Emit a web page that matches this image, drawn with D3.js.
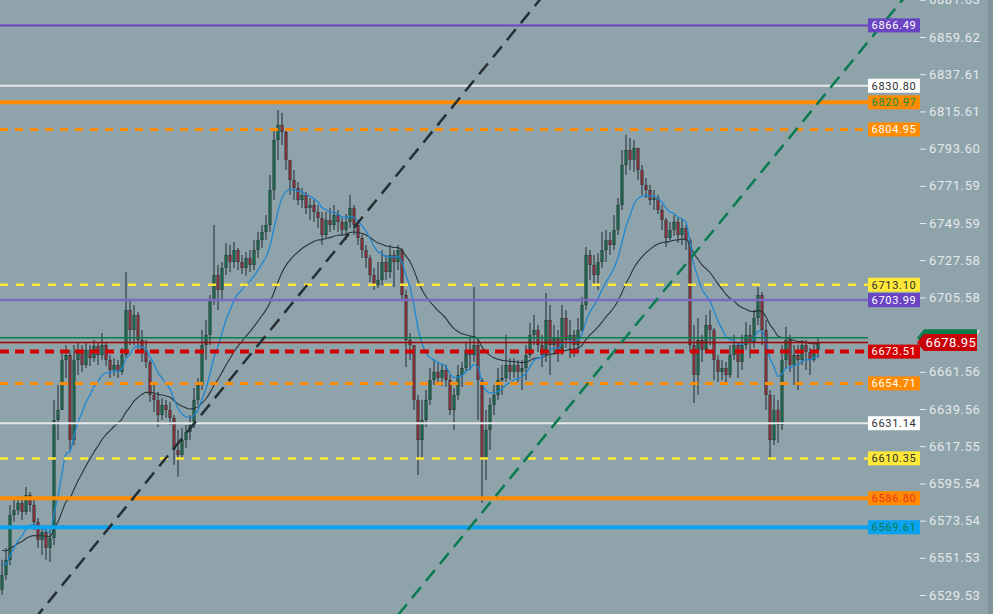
<html>
<head>
  <script src="https://d3js.org/d3.v7.min.js"></script>
  <style>
    body { margin: 0; background: #8fa3ab; overflow: hidden; }
    svg { display: block; font-family: Roboto, sans-serif; }
  </style>
</head>
<body>
  <div id="chart"></div>
  <script>

    // price data, one candle per entry (open = previous close)
    var firstOpen = 6532.5;
    var closes = [
      6541.4, 6550.3, 6576.9, 6579.8, 6584.0, 6578.7, 6588.7, 6582.8, 6572.7, 6562.1,
      6566.8, 6557.4, 6563.3, 6633.1, 6639.0, 6668.6, 6671.5, 6621.2, 6668.6, 6673.3,
      6665.6, 6674.5, 6669.7, 6676.8, 6671.5, 6677.4, 6668.6, 6662.6, 6665.6, 6661.5,
      6671.5, 6698.1, 6686.3, 6695.2, 6680.4, 6674.5, 6667.4, 6647.9, 6644.9, 6636.0,
      6641.9, 6639.0, 6634.3, 6615.3, 6612.4, 6621.2, 6626.0, 6630.1, 6644.9, 6653.8,
      6677.4, 6683.4, 6704.1, 6718.8, 6710.0, 6723.0, 6730.7, 6726.5, 6733.6, 6726.5,
      6723.0, 6728.9, 6724.8, 6733.6, 6739.5, 6744.3, 6748.4, 6769.1, 6798.7, 6807.6,
      6803.4, 6786.9, 6775.0, 6770.3, 6763.2, 6766.2, 6758.5, 6760.2, 6756.1, 6752.6,
      6742.5, 6751.4, 6748.4, 6754.3, 6750.2, 6745.5, 6750.2, 6758.5, 6748.4, 6740.7,
      6733.6, 6728.9, 6718.8, 6712.9, 6715.9, 6726.5, 6720.6, 6730.7, 6726.5, 6733.6,
      6707.0, 6680.4, 6677.4, 6644.9, 6621.2, 6633.1, 6644.9, 6656.7, 6661.5, 6657.9,
      6662.6, 6656.7, 6639.0, 6647.9, 6659.7, 6663.8, 6674.5, 6671.5, 6677.4, 6656.7,
      6609.4, 6627.2, 6641.9, 6647.9, 6656.7, 6657.9, 6665.6, 6661.5, 6665.6, 6661.5,
      6663.8, 6671.5, 6683.4, 6686.3, 6677.4, 6671.5, 6692.2, 6677.4, 6681.6, 6674.5,
      6693.4, 6680.4, 6683.4, 6677.4, 6686.3, 6701.1, 6730.7, 6724.8, 6718.8, 6726.5,
      6733.6, 6739.5, 6736.6, 6745.5, 6760.2, 6783.9, 6792.8, 6786.9, 6794.0, 6780.9,
      6772.1, 6769.1, 6763.2, 6764.4, 6757.3, 6751.4, 6740.7, 6745.5, 6750.2, 6742.5,
      6746.6, 6739.5, 6677.4, 6659.7, 6680.4, 6674.5, 6689.3, 6686.3, 6668.6, 6661.5,
      6663.8, 6659.7, 6671.5, 6677.4, 6667.4, 6677.4, 6683.4, 6679.2, 6693.4, 6707.0,
      6686.3, 6647.9, 6621.2, 6639.0, 6630.1, 6668.6, 6680.4, 6665.6, 6671.5, 6668.6,
      6677.4, 6673.3, 6668.6, 6674.5, 6678.95
    ];
    var highs = [
      6550.3, 6557.4, 6582.8, 6585.8, 6588.1, 6585.8, 6593.4, 6590.5, 6585.8, 6575.1,
      6571.0, 6569.2, 6568.0, 6644.9, 6653.8, 6674.5, 6677.4, 6674.5, 6677.4, 6678.6,
      6677.4, 6679.2, 6677.4, 6680.4, 6678.6, 6684.5, 6679.2, 6671.5, 6669.7, 6668.6,
      6675.7, 6720.6, 6704.1, 6701.1, 6697.0, 6686.3, 6680.4, 6668.6, 6653.8, 6649.6,
      6646.1, 6644.9, 6643.7, 6636.0, 6627.2, 6628.3, 6630.1, 6636.0, 6652.0, 6657.9,
      6686.3, 6692.2, 6707.0, 6748.4, 6724.8, 6726.5, 6737.8, 6736.6, 6738.4, 6734.8,
      6730.7, 6732.4, 6733.6, 6739.5, 6744.3, 6748.4, 6754.3, 6778.0, 6804.6, 6816.4,
      6814.7, 6805.8, 6786.9, 6780.9, 6773.9, 6770.3, 6767.9, 6764.4, 6763.2, 6760.2,
      6756.1, 6756.1, 6758.5, 6760.2, 6757.3, 6752.6, 6754.9, 6766.2, 6760.2, 6751.4,
      6742.5, 6736.6, 6730.7, 6723.0, 6726.5, 6733.6, 6730.7, 6736.6, 6733.6, 6736.6,
      6734.8, 6710.0, 6684.5, 6677.4, 6647.9, 6644.9, 6650.8, 6663.8, 6668.6, 6667.4,
      6666.2, 6665.6, 6659.7, 6652.0, 6665.6, 6667.4, 6679.2, 6681.6, 6711.7, 6680.4,
      6657.9, 6639.0, 6646.1, 6653.8, 6663.8, 6665.6, 6683.4, 6669.7, 6669.7, 6668.6,
      6668.6, 6677.4, 6690.5, 6695.2, 6689.3, 6683.4, 6708.2, 6701.1, 6689.3, 6686.3,
      6701.1, 6698.1, 6692.2, 6686.3, 6693.4, 6705.8, 6735.4, 6733.6, 6730.7, 6731.8,
      6744.3, 6745.5, 6744.3, 6754.3, 6764.4, 6792.8, 6801.7, 6799.9, 6798.7, 6792.8,
      6783.9, 6776.2, 6772.1, 6769.1, 6766.2, 6760.2, 6752.6, 6750.2, 6754.3, 6752.6,
      6751.4, 6748.4, 6740.7, 6689.3, 6693.4, 6683.4, 6695.2, 6698.1, 6687.5, 6671.5,
      6668.6, 6667.4, 6677.4, 6683.4, 6679.2, 6683.4, 6691.0, 6689.3, 6698.1, 6711.7,
      6708.8, 6692.2, 6650.8, 6647.9, 6644.9, 6677.4, 6688.1, 6683.4, 6677.4, 6677.4,
      6680.4, 6680.4, 6675.7, 6677.4, 6681.6
    ];
    var lows = [
      6529.6, 6538.4, 6547.3, 6572.7, 6576.9, 6573.9, 6576.9, 6578.7, 6568.0, 6557.4,
      6553.2, 6550.3, 6549.1, 6559.1, 6621.2, 6639.0, 6657.9, 6615.3, 6618.3, 6659.7,
      6661.5, 6663.8, 6665.0, 6667.4, 6665.6, 6668.6, 6665.0, 6657.9, 6659.1, 6657.9,
      6659.7, 6669.7, 6677.4, 6677.4, 6673.3, 6667.4, 6663.8, 6643.7, 6637.8, 6628.9,
      6633.1, 6634.3, 6630.1, 6606.5, 6599.4, 6609.4, 6616.5, 6621.2, 6628.3, 6641.9,
      6650.8, 6668.6, 6677.4, 6701.1, 6698.1, 6704.1, 6718.8, 6720.6, 6723.0, 6721.8,
      6719.4, 6718.3, 6720.6, 6721.8, 6728.9, 6734.8, 6739.5, 6744.3, 6763.2, 6786.9,
      6795.7, 6780.9, 6766.2, 6763.2, 6760.2, 6758.5, 6754.9, 6751.4, 6750.2, 6746.6,
      6736.6, 6740.7, 6744.3, 6745.5, 6744.3, 6741.9, 6739.5, 6746.6, 6742.5, 6736.6,
      6728.9, 6723.0, 6714.7, 6710.0, 6711.2, 6712.9, 6715.9, 6717.1, 6711.7, 6721.8,
      6704.1, 6664.4, 6668.6, 6639.0, 6600.5, 6609.4, 6628.9, 6641.9, 6653.8, 6655.0,
      6653.2, 6652.6, 6636.0, 6627.2, 6644.9, 6652.6, 6661.5, 6662.6, 6667.4, 6633.1,
      6584.0, 6597.6, 6615.3, 6636.0, 6644.9, 6647.9, 6655.6, 6656.7, 6657.9, 6655.6,
      6650.8, 6656.7, 6669.7, 6677.4, 6673.3, 6664.4, 6667.4, 6659.7, 6671.5, 6667.4,
      6671.5, 6675.7, 6669.7, 6670.3, 6674.5, 6685.1, 6698.1, 6715.9, 6712.9, 6710.0,
      6723.0, 6726.5, 6730.7, 6733.6, 6742.5, 6757.3, 6778.0, 6780.9, 6779.8, 6775.0,
      6766.2, 6764.4, 6760.2, 6757.3, 6754.9, 6745.5, 6735.4, 6739.5, 6741.9, 6737.8,
      6736.6, 6733.6, 6673.3, 6643.1, 6647.9, 6667.4, 6673.3, 6677.4, 6656.7, 6655.6,
      6656.7, 6655.0, 6657.9, 6668.6, 6657.9, 6662.6, 6674.5, 6669.7, 6675.7, 6689.3,
      6677.4, 6639.0, 6609.4, 6618.3, 6619.5, 6627.2, 6663.8, 6661.5, 6653.8, 6650.8,
      6665.6, 6662.6, 6659.7, 6667.4, 6669.7
    ];

    // moving averages (ema), seeded with the values before the first candle
    var fastPeriod = 11, fastSeed = 6548.5;
    var slowPeriod = 31, slowSeed = 6557.0;

    // horizontal levels drawn on the chart
    var levelPrices = [6866.49, 6830.80, 6820.97, 6804.95, 6713.10, 6703.99, 6673.51,
                       6654.71, 6631.14, 6610.35, 6586.80, 6569.61];
    var greenLevel = 6681.64;
    var lastPrice = 6678.95;

    // trend lines as [candle index, price]
    var blackTrend = [[8, 6514.9], [140, 6897.7]];
    var greenTrend = [[99, 6517.7], [228, 6889.9]];

    var yTicks = [6881.63, 6859.62, 6837.61, 6815.61, 6793.60, 6771.59, 6749.59, 6727.58,
                  6705.58, 6683.57, 6661.56, 6639.56, 6617.55, 6595.54, 6573.54, 6551.53, 6529.53];

    // styles for the levels, same order as levelPrices
    var levelStyles = [
      {stroke: '#6a44c2', width: 2, dash: null, box: '#6a44c2', text: '#ffffff'},
      {stroke: '#e6e9ea', width: 2, dash: null, box: '#ffffff', text: '#2a2f33'},
      {stroke: '#ff8c00', width: 4, dash: null, box: '#ff8c00', text: '#0b8a4c'},
      {stroke: '#ff8c00', width: 3, dash: '8,7', box: '#ff8c00', text: '#ffffff'},
      {stroke: '#ffe838', width: 2.5, dash: '8,8', box: '#ffe838', text: '#2a2f33'},
      {stroke: '#7a68c2', width: 2.5, dash: null, box: '#6a44c2', text: '#ffffff'},
      {stroke: '#d20000', width: 4, dash: '9,6', box: '#d20000', text: '#ffffff'},
      {stroke: '#ff8c00', width: 3, dash: '8,7', box: '#ff8c00', text: '#ffffff'},
      {stroke: '#e6e9ea', width: 2, dash: null, box: '#ffffff', text: '#2a2f33'},
      {stroke: '#ffe838', width: 2.5, dash: '8,8', box: '#ffe838', text: '#2a2f33'},
      {stroke: '#ff8c00', width: 4, dash: null, box: '#ff8c00', text: '#e8302a'},
      {stroke: '#0aa3ef', width: 4, dash: null, box: '#0aa3ef', text: '#0b7d4c'}
    ];

    var W = 993, H = 614;
    var plotRight = 918, labelX = 868, labelW = 52;

    var svg = d3.select('#chart').append('svg')
              .attr('width', W)
              .attr('height', H);

    svg.append('rect').attr('width', W).attr('height', H).attr('fill', '#8fa3ab');
    svg.append('rect').attr('x', 988).attr('width', 5).attr('height', H).attr('fill', '#7f939b');

    svg.append('clipPath').attr('id', 'plotclip')
      .append('rect').attr('width', plotRight).attr('height', H);

    var x = d3.scaleLinear().domain([0, closes.length - 1]).range([2, 818]);
    var y = d3.scaleLinear().domain([6529.53, 6859.62]).range([595, 37]);

    var candles = closes.map(function(c, i) {
      var o = i ? closes[i - 1] : firstOpen;
      return {i: i, o: o, c: c, h: Math.max(highs[i], o, c), l: Math.min(lows[i], o, c)};
    });

    function ema(values, n, seed) {
      var k = 2 / (n + 1), e = seed;
      return values.map(function(v) { e = e + k * (v - e); return e; });
    }
    var fast = ema(closes, fastPeriod, fastSeed);
    var slow = ema(closes, slowPeriod, slowSeed);

    var plot = svg.append('g').attr('clip-path', 'url(#plotclip)');

    // candles
    var cg = plot.append('g');
    cg.selectAll('.wick').data(candles).enter().append('line')
      .attr('x1', function(d) { return x(d.i); })
      .attr('x2', function(d) { return x(d.i); })
      .attr('y1', function(d) { return y(d.h); })
      .attr('y2', function(d) { return y(d.l); })
      .attr('stroke', '#222c31')
      .attr('stroke-width', 1);
    cg.selectAll('.body').data(candles).enter().append('rect')
      .attr('x', function(d) { return x(d.i) - 1.5; })
      .attr('width', 3)
      .attr('y', function(d) { return y(Math.max(d.o, d.c)); })
      .attr('height', function(d) { return Math.max(1, Math.abs(y(d.o) - y(d.c))); })
      .attr('fill', '#222c31');
    cg.selectAll('.core').data(candles).enter().append('rect')
      .attr('x', function(d) { return x(d.i) - 0.5; })
      .attr('width', 1)
      .attr('y', function(d) { return y(Math.max(d.o, d.c)) + 0.5; })
      .attr('height', function(d) { return Math.max(0, Math.abs(y(d.o) - y(d.c)) - 1); })
      .attr('fill', function(d) { return d.c >= d.o ? '#13a05c' : '#e8323c'; });

    // moving averages
    var line = d3.line()
      .x(function(d, i) { return x(i); })
      .y(function(d) { return y(d); })
      .curve(d3.curveMonotoneX);
    plot.append('path').attr('d', line(slow))
      .attr('fill', 'none').attr('stroke', '#2a3338').attr('stroke-width', 1.1);
    plot.append('path').attr('d', line(fast))
      .attr('fill', 'none').attr('stroke', '#1f87d2').attr('stroke-width', 1.3);

    // horizontal levels
    plot.append('line')
      .attr('x1', 0).attr('x2', labelX)
      .attr('y1', y(greenLevel)).attr('y2', y(greenLevel))
      .attr('stroke', '#0b7d4c').attr('stroke-width', 1.5);
    plot.append('line')
      .attr('x1', 0).attr('x2', labelX)
      .attr('y1', y(lastPrice)).attr('y2', y(lastPrice))
      .attr('stroke', '#a30000').attr('stroke-width', 1.5);

    plot.selectAll('.level').data(levelPrices).enter().append('line')
      .attr('x1', 0).attr('x2', labelX)
      .attr('y1', function(d) { return y(d); })
      .attr('y2', function(d) { return y(d); })
      .attr('stroke', function(d, i) { return levelStyles[i].stroke; })
      .attr('stroke-width', function(d, i) { return levelStyles[i].width; })
      .attr('stroke-dasharray', function(d, i) { return levelStyles[i].dash; });

    // trend lines
    var tline = d3.line().x(function(d) { return x(d[0]); }).y(function(d) { return y(d[1]); });
    plot.append('path').attr('d', tline(blackTrend))
      .attr('stroke', '#262f35').attr('stroke-width', 2.5).attr('stroke-dasharray', '14,8').attr('fill', 'none');
    plot.append('path').attr('d', tline(greenTrend))
      .attr('stroke', '#0a7a50').attr('stroke-width', 2.5).attr('stroke-dasharray', '14,8').attr('fill', 'none');

    // right axis
    var yAxis = d3.axisRight(y).tickValues(yTicks).tickSize(6).tickPadding(3)
      .tickFormat(d3.format('.2f'));
    var ax = svg.append('g').attr('transform', 'translate(' + (plotRight + 2) + ',0)').call(yAxis);
    ax.select('.domain').remove();
    ax.selectAll('line').attr('stroke', '#e4e9ec');
    ax.selectAll('text').attr('fill', '#e4e9ec').style('font-size', '13px')
      .style('letter-spacing', '0.6px').style('font-family', 'Roboto, sans-serif');

    // level labels
    var lg = svg.selectAll('.lab').data(levelPrices).enter().append('g')
      .attr('transform', function(d) { return 'translate(' + labelX + ',' + y(d) + ')'; });
    lg.append('rect')
      .attr('x', 0).attr('y', -7).attr('width', labelW).attr('height', 14)
      .attr('fill', function(d, i) { return levelStyles[i].box; });
    lg.append('text')
      .attr('x', labelW / 2).attr('dy', '0.35em')
      .attr('text-anchor', 'middle')
      .style('font-size', '11px').style('letter-spacing', '0.7px')
      .attr('fill', function(d, i) { return levelStyles[i].text; })
      .text(function(d) { return d3.format('.2f')(d); });

    // price tags on the axis
    function tag(price, fill) {
      var ty = y(price);
      var g = svg.append('g').attr('transform', 'translate(0,' + ty + ')');
      g.append('path')
        .attr('d', 'M917,0 L924,-8.5 L977,-8.5 L977,8.5 L924,8.5 Z')
        .attr('fill', fill);
      g.append('text')
        .attr('x', 951).attr('dy', '0.36em').attr('text-anchor', 'middle')
        .attr('fill', '#ffffff')
        .style('font-size', '13px').style('letter-spacing', '0.5px')
        .text(d3.format('.2f')(price));
    }
    tag(greenLevel, '#0b7d4c');
    tag(lastPrice, '#c8000a');

  </script>
</body>
</html>
